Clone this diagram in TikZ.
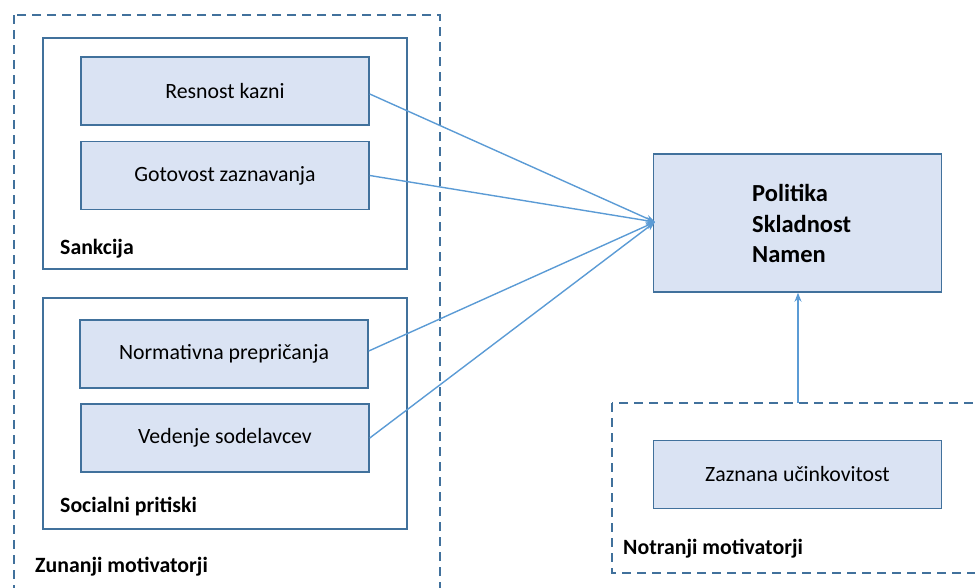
\documentclass[tikz,border=0pt]{standalone}
\usepackage{fontspec}
\setmainfont{Carlito}
\usetikzlibrary{arrows.meta}
\definecolor{boxfill}{HTML}{DAE3F3}
\definecolor{boxline}{HTML}{41719C}
\definecolor{arrowline}{HTML}{5B9BD5}
\begin{document}
\begin{tikzpicture}[x=1pt,y=-1pt,
  factor/.style={draw=boxline,line width=1.5pt,fill=boxfill,rectangle,minimum width=288pt,minimum height=68pt,font=\fontsize{21.8}{25}\selectfont,inner sep=0pt},
  group/.style={draw=boxline,line width=1.3pt},
  motivgroup/.style={draw=boxline,line width=2pt,dash pattern=on 9pt off 6pt},
  grouplabel/.style={font=\bfseries\fontsize{21.8}{25}\selectfont,anchor=west,inner sep=0pt},
  link/.style={draw=arrowline,line width=1.4pt,-{Stealth[length=9pt,width=7pt]}}]
\useasboundingbox (0,0) rectangle (975,587);
\clip (0,0) rectangle (975,587);

% outer dashed groups
\draw[motivgroup] (14,15) rectangle (440,600);
\draw[motivgroup] (612,403) rectangle (990,573);

% sanction group
\draw[group] (43,38) rectangle (407,269);
\node[factor] (resnost) at (225,91) {Resnost kazni};
\node[factor] (gotovost) at (225,175.5) {Gotovost zaznavanja};
\node[grouplabel] (sankcija) at (60,249) {Sankcija};

% social pressure group
\draw[group] (43,298) rectangle (407,529);
\node[factor] (normativna) at (224,354) {Normativna prepričanja};
\node[factor] (vedenje) at (225,438) {Vedenje sodelavcev};
\node[grouplabel] (socialni) at (60,507) {Socialni pritiski};

\node[grouplabel] (zunanji) at (35,567) {Zunanji motivatorji};

% outcome
\node[factor,minimum height=138pt] (politika) at (797.5,223) {};
\node[anchor=west,align=left,inner sep=0pt,font=\bfseries\fontsize{24.5}{30.5}\selectfont] (politikatext) at (752,223.5) {Politika\\Skladnost\\Namen};

% internal motivators
\node[factor] (zaznana) at (797.5,474.5) {Zaznana učinkovitost};
\node[grouplabel] (notranji) at (623,549) {Notranji motivatorji};
\coordinate (notranjitop) at (798,403);

% connectors
\coordinate (target) at (655,222);
\draw[link] ([yshift=-3pt]resnost.east) -- (target);
\draw[link] (gotovost.east) -- (target);
\draw[link] ([yshift=3pt]normativna.east) -- (target);
\draw[link] (vedenje.east) -- (target);
\draw[link] (notranjitop) -- (politika.south -| notranjitop);
\end{tikzpicture}
\end{document}
